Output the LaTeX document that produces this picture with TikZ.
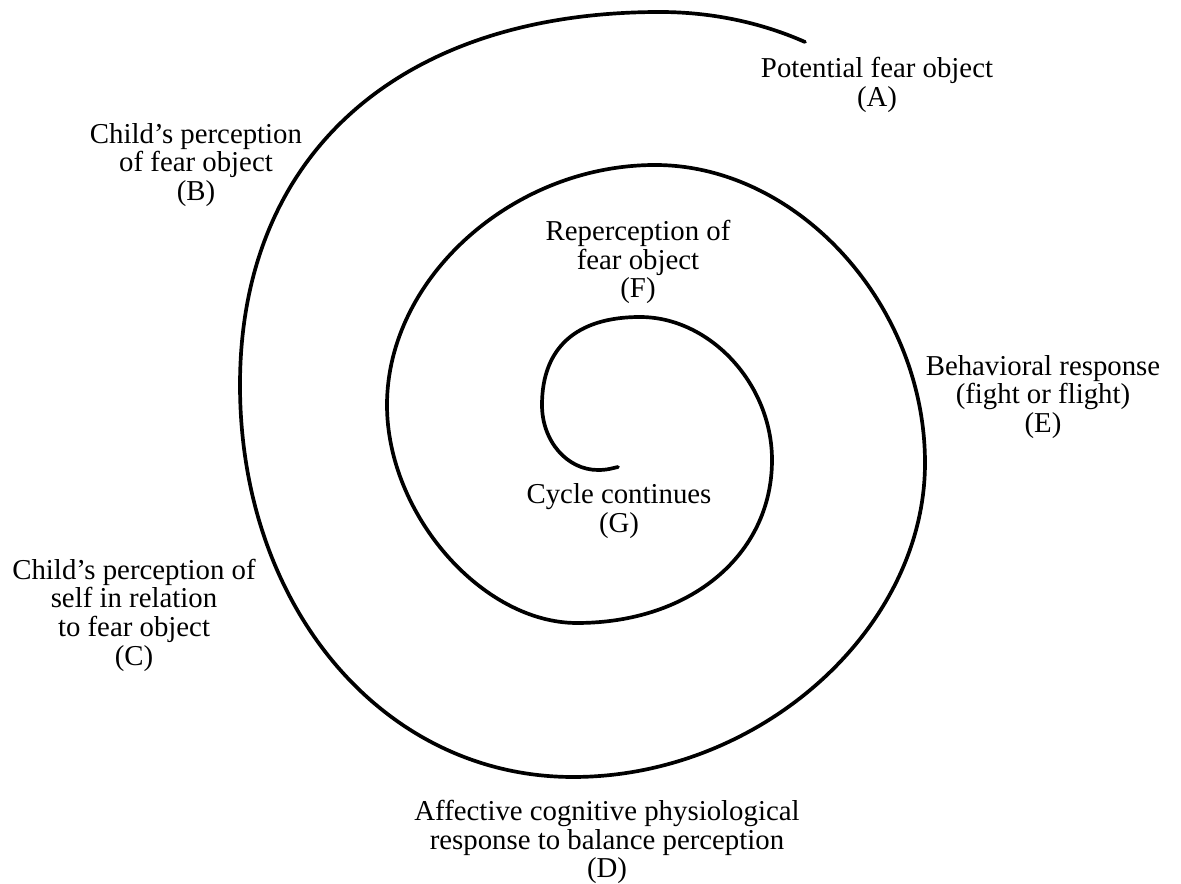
\documentclass[tikz,border=0pt]{standalone}
\usepackage{fontspec}
\setmainfont{Liberation Serif}
\usepackage{tikz}

\begin{document}
\begin{tikzpicture}[x=0.02cm, y=-0.02cm,
        stage/.style={align=center, inner sep=0pt, font=\fontsize{16.4}{16.3}\selectfont}]
        \useasboundingbox (0,0) rectangle (1181,884);
        % the spiral, quarter by quarter from the outside in
        \draw[line width=2.1pt, line cap=round]
            (805,42) .. controls (760,22) and (710,12) .. (660,12)
                     .. controls (400,12) and (240,154) .. (240,385)
                     .. controls (240,608) and (384,777) .. (573,777)
                     .. controls (760,777) and (925,629) .. (925,463)
                     .. controls (925,305) and (798,165) .. (655,165)
                     .. controls (513,165) and (387,278) .. (387,405)
                     .. controls (387,514) and (482,623) .. (577,623)
                     .. controls (690,623) and (772,555) .. (772,460)
                     .. controls (772,384) and (710,317) .. (640,317)
                     .. controls (576,317) and (542,348) .. (542,405)
                     .. controls (542,441) and (567,470) .. (598,470)
                     .. controls (608,470) and (613,468) .. (618,467);
        \node[stage] (a) at (877,85) {Potential fear object\\(A)};
        \node[stage] (b) at (196,165) {Child's perception\\of fear object\\(B)};
        \node[stage] (c) at (134,615) {Child's perception of\\self in relation\\to fear object\\(C)};
        \node[stage] (d) at (607,842) {Affective cognitive physiological\\response to balance perception\\(D)};
        \node[stage] (e) at (1043,397) {Behavioral response\\(fight or flight)\\(E)};
        \node[stage] (f) at (638,262) {Reperception of\\fear object\\(F)};
        \node[stage] (g) at (619,511) {Cycle continues\\(G)};
\end{tikzpicture}
\end{document}
